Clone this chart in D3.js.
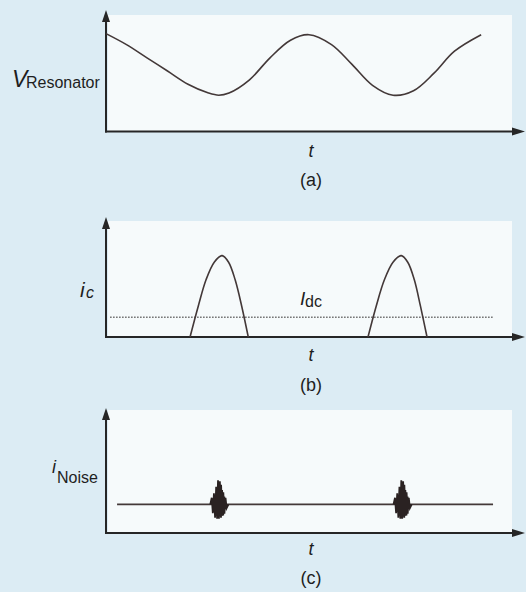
<!DOCTYPE html>
<html>
<head>
<meta charset="utf-8">
<script src="https://cdn.jsdelivr.net/npm/d3@7"></script>
<style>
  html, body { margin: 0; padding: 0; background: #dcecf4; }
  svg { display: block; }
  text { font-family: "Liberation Sans", Arial, Helvetica, sans-serif; fill: #1e1e1e; }
</style>
</head>
<body>
<script>
// Resonator voltage over time (arbitrary units)
const resonatorT = [0, 5, 10, 15, 20, 25, 27.5, 30, 35, 40, 45, 49.5, 55, 60, 65, 70, 75, 80, 85, 91.5];
const resonatorV = [0.89, 0.79, 0.67, 0.55, 0.43, 0.35, 0.33, 0.35, 0.47, 0.67, 0.83, 0.88, 0.79, 0.61, 0.42, 0.33, 0.37, 0.53, 0.73, 0.88];

// Collector current pulses
const pulse1T = [20.5, 22.5, 24.4, 26.4, 28.3, 29.9, 31.5, 33.1, 34.7];
const pulse2T = [63.9, 65.9, 67.9, 70.0, 72.0, 73.6, 75.2, 76.7, 78.3];
const pulseI  = [0, 0.28, 0.52, 0.68, 0.74, 0.68, 0.52, 0.28, 0];
const idcLevel = 0.18;
const idcSpan = [1, 94.6];

// Noise current: flat level with bursts at the conduction instants
const noiseLevel = 0.26;
const noiseSpan = [2.7, 94.4];
const burstCenters = [27.5, 72.2];
const burstDt = [-2.3, -1.9, -1.6, -1.3, -1.0, -0.7, -0.45, -0.2, 0.05, 0.3, 0.6, 0.9, 1.2, 1.5, 1.8, 2.3];
const burstDi = [0, 0.06, -0.08, 0.1, -0.12, 0.16, -0.13, 0.22, -0.13, 0.21, -0.12, 0.13, -0.1, 0.07, -0.04, 0];

const W = 526, H = 592;
const svg = d3.select("body").append("svg").attr("width", W).attr("height", H);

const x = d3.scaleLinear().domain([0, 100]).range([106, 516]);

const lineColor = "#433838";
const axisColor = "#262626";

function panel(axisY, topY, bgTop) {
  // light plotting area
  svg.append("rect")
    .attr("x", 108).attr("y", bgTop)
    .attr("width", 404).attr("height", axisY - bgTop)
    .attr("fill", "#f6fafb");
  const y = d3.scaleLinear().domain([0, 1]).range([axisY, axisY - 110]);
  const g = svg.append("g");
  // vertical axis with arrow
  g.append("line").attr("x1", 106).attr("x2", 106).attr("y1", axisY + 1).attr("y2", topY + 8)
    .attr("stroke", axisColor).attr("stroke-width", 2);
  g.append("path").attr("d", `M106,${topY} L102,${topY + 12} L110,${topY + 12} Z`).attr("fill", axisColor);
  // horizontal axis with arrow
  g.append("line").attr("x1", 105).attr("x2", 516).attr("y1", axisY).attr("y2", axisY)
    .attr("stroke", axisColor).attr("stroke-width", 2);
  g.append("path").attr("d", `M525,${axisY} L512,${axisY - 4} L512,${axisY + 4} Z`).attr("fill", axisColor);
  return y;
}

function label(xp, yp, txt, size, italic, anchor) {
  svg.append("text").attr("x", xp).attr("y", yp)
    .attr("font-size", size)
    .attr("font-style", italic ? "italic" : "normal")
    .attr("text-anchor", anchor || "start")
    .text(txt);
}

// ---- (a) resonator voltage ----
const yA = panel(131.5, 10, 15);
svg.append("path")
  .datum(resonatorT.map((t, i) => [t, resonatorV[i]]))
  .attr("fill", "none").attr("stroke", lineColor).attr("stroke-width", 1.6)
  .attr("d", d3.line().x(d => x(d[0])).y(d => yA(d[1])).curve(d3.curveCatmullRom.alpha(0.5)));
label(12, 87, "V", 23, true);
label(26, 88, "Resonator", 16, false);
label(311, 157, "t", 18, true, "middle");
label(311, 186, "(a)", 18, false, "middle");

// ---- (b) collector current ----
const yB = panel(337, 217, 221);
svg.append("path")
  .datum([[idcSpan[0], idcLevel], [idcSpan[1], idcLevel]])
  .attr("fill", "none").attr("stroke", "#6a6a6a").attr("stroke-width", 1.6)
  .attr("stroke-dasharray", "1.5,1.5")
  .attr("d", d3.line().x(d => x(d[0])).y(d => yB(d[1])));
[pulse1T, pulse2T].forEach(ts => {
  svg.append("path")
    .datum(ts.map((t, i) => [t, pulseI[i]]))
    .attr("fill", "none").attr("stroke", lineColor).attr("stroke-width", 1.6)
    .attr("d", d3.line().x(d => x(d[0])).y(d => yB(d[1])).curve(d3.curveCatmullRom.alpha(0.5)));
});
label(80, 297, "i", 21, true);
label(86, 298, "c", 16, true);
label(300, 305, "I", 19, true);
label(305, 307, "dc", 16, false);
label(311, 361, "t", 18, true, "middle");
label(311, 391, "(b)", 18, false, "middle");

// ---- (c) noise current ----
const yC = panel(533, 408, 410);
svg.append("path")
  .datum([[noiseSpan[0], noiseLevel], [noiseSpan[1], noiseLevel]])
  .attr("fill", "none").attr("stroke", lineColor).attr("stroke-width", 1.6)
  .attr("d", d3.line().x(d => x(d[0])).y(d => yC(d[1])));
burstCenters.forEach(c => {
  [0, 0.3].forEach(shift => {
    svg.append("path")
      .datum(burstDt.map((dt, i) => [c + dt * 0.9 + shift, noiseLevel + burstDi[i] * (shift ? 0.85 : 1)]))
      .attr("fill", "none").attr("stroke", "#2a2222").attr("stroke-width", 1.8)
      .attr("d", d3.line().x(d => x(d[0])).y(d => yC(d[1])));
  });
});
label(52, 473, "i", 18, true);
label(57, 483, "Noise", 16, false);
label(311, 555, "t", 18, true, "middle");
label(311, 584, "(c)", 18, false, "middle");
</script>
</body>
</html>
